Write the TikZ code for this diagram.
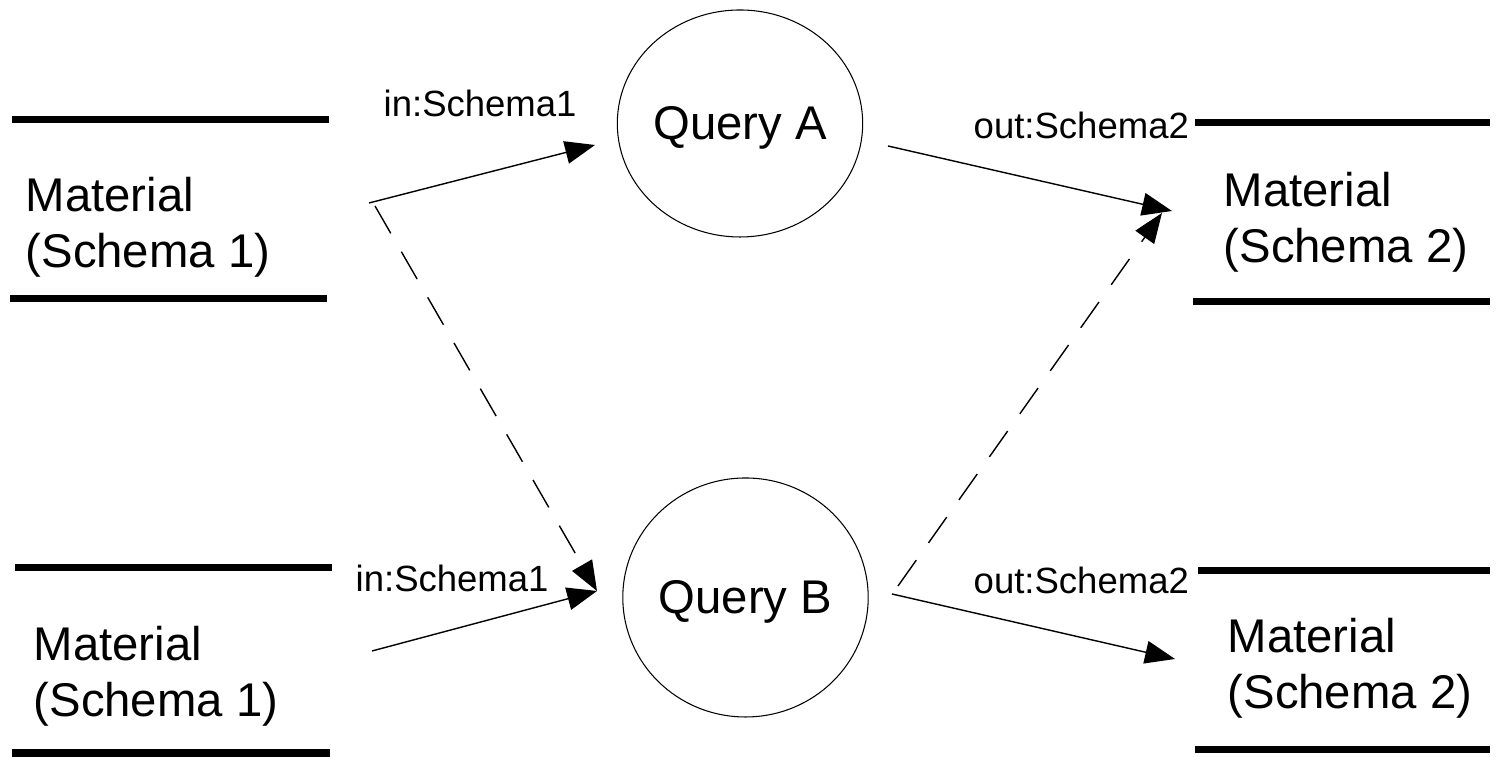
\documentclass[tikz,border=0pt]{standalone}
\usepackage{fontspec}
\setmainfont{Liberation Sans}
\usetikzlibrary{arrows.meta,shapes.geometric}
\tikzset{
  store/.style={line width=2pt},
  query/.style={ellipse,draw,line width=0.3pt,inner sep=0pt,minimum width=2.45cm,text depth=0pt,font=\fontsize{13.46}{16}\selectfont},
  mat/.style={anchor=base west,align=left,inner sep=0pt,font=\fontsize{13.46}{15.93}\selectfont},
  lbl/.style={anchor=base west,inner sep=0pt,font=\fontsize{10.39}{12}\selectfont},
  flow/.style={-{Triangle[length=8.5pt,width=6.5pt]},line width=0.4pt},
  alt/.style={flow,dash pattern=on 9pt off 6pt}
}
\begin{document}
\begin{tikzpicture}
\useasboundingbox (0,0) rectangle (15,7.57);
\draw[store] (0.12,6.37)--(3.29,6.37); \draw[store] (0.10,4.58)--(3.27,4.58);
\draw[store] (0.15,1.89)--(3.32,1.89); \draw[store] (0.12,0.04)--(3.30,0.04);
\draw[store] (11.95,6.34)--(14.90,6.34); \draw[store] (11.93,4.55)--(14.90,4.55);
\draw[store] (11.98,1.86)--(14.90,1.86); \draw[store] (11.95,0.07)--(14.90,0.07);
\node[mat] (m1a) at (0.25,4.89) {Material\\(Schema 1)};
\node[mat] (m1b) at (0.33,0.40) {Material\\(Schema 1)};
\node[mat] (m2a) at (12.23,4.94) {Material\\(Schema 2)};
\node[mat] (m2b) at (12.27,0.48) {Material\\(Schema 2)};
\node[query,minimum height=2.27cm] (qA) at (7.40,6.335) {Query A};
\node[query,minimum height=2.39cm] (qB) at (7.455,1.595) {Query B};
\coordinate (s1a) at (3.69,5.54); \coordinate (s1d) at (3.75,5.51); \coordinate (s1b) at (3.72,1.06);
\coordinate (tA) at (5.95,6.12); \coordinate (tB) at (5.97,1.66);
\coordinate (oA) at (8.88,6.11); \coordinate (oB) at (8.92,1.63); \coordinate (oBd) at (8.98,1.71);
\coordinate (t2a) at (11.72,5.46); \coordinate (t2d) at (11.62,5.44); \coordinate (t2b) at (11.75,0.98);
\draw[flow] (s1a)--(tA);
\draw[alt] (s1d)--(tB);
\draw[flow] (s1b)--(tB);
\draw[flow] (oA)--(t2a);
\draw[alt] (oBd)--(t2d);
\draw[flow] (oB)--(t2b);
\node[lbl] (inA) at (3.83,6.40) {in:Schema1};
\node[lbl] (inB) at (3.55,1.65) {in:Schema1};
\node[lbl] (outA) at (9.73,6.18) {out:Schema2};
\node[lbl] (outB) at (9.73,1.63) {out:Schema2};
\end{tikzpicture}
\end{document}
